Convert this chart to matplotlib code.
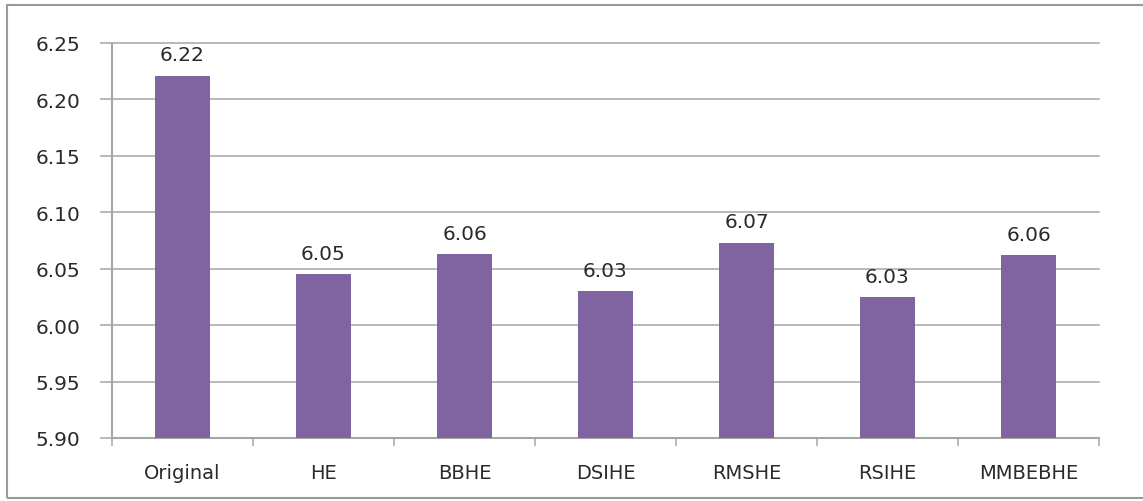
import matplotlib.pyplot as plt
from matplotlib.patches import Rectangle

# data
methods = ["Original", "HE", "BBHE", "DSIHE", "RMSHE", "RSIHE", "MMBEBHE"]
values = [6.221, 6.045, 6.063, 6.030, 6.073, 6.025, 6.062]
labels = ["6.22", "6.05", "6.06", "6.03", "6.07", "6.03", "6.06"]
yticks = [5.90, 5.95, 6.00, 6.05, 6.10, 6.15, 6.20, 6.25]

plt.rcParams['font.family'] = ['DejaVu Sans']
txt = "#2a2a2a"
grey = "#a6a6a6"

fig = plt.figure(figsize=(11.43, 5.02), dpi=100)
ax = fig.add_axes([112 / 1143, 1 - 439 / 502, (1099 - 112) / 1143, (439 - 44) / 502])

x = range(len(methods))
bars = ax.bar(x, [v - 5.90 for v in values], bottom=5.90, width=0.39,
              color="#8064A2", zorder=3)
for xi, v, lab in zip(x, values, labels):
    ax.text(xi, v + 0.01, lab, ha="center", va="bottom", fontsize=14.5, color=txt)

ax.set_xlim(-0.5, len(methods) - 0.5)
ax.set_ylim(5.90, 6.25)
ax.set_yticks(yticks)
ax.set_yticklabels(["%.2f" % t for t in yticks], fontsize=14.5, color=txt)
ax.yaxis.grid(True, color=grey, linewidth=1.1, zorder=0)
for gl in ax.get_ygridlines():
    gl.set_clip_on(False)
ax.tick_params(axis="y", length=9, width=1.1, color=grey, pad=14)

ax.set_xticks([i - 0.5 for i in range(len(methods) + 1)], minor=False)
ax.set_xticklabels([])
ax.set_xticks(list(x), minor=True)
ax.set_xticklabels(methods, minor=True, fontsize=14, color=txt)
ax.tick_params(axis="x", which="major", length=6, width=1.1, color=grey, direction="out")
ax.tick_params(axis="x", which="minor", length=0, pad=18)

for s in ["top", "right"]:
    ax.spines[s].set_visible(False)
for s in ["left", "bottom"]:
    ax.spines[s].set_color(grey)
    ax.spines[s].set_linewidth(1.5)

# outer frame of the chart area (right edge falls outside the picture)
fig.patches.append(Rectangle((7 / 1143, 3 / 502), 1145 / 1143, 493 / 502,
                             transform=fig.transFigure, fill=False,
                             edgecolor="#9a9a9a", linewidth=1.5))

fig.savefig("out.png", dpi=100)
